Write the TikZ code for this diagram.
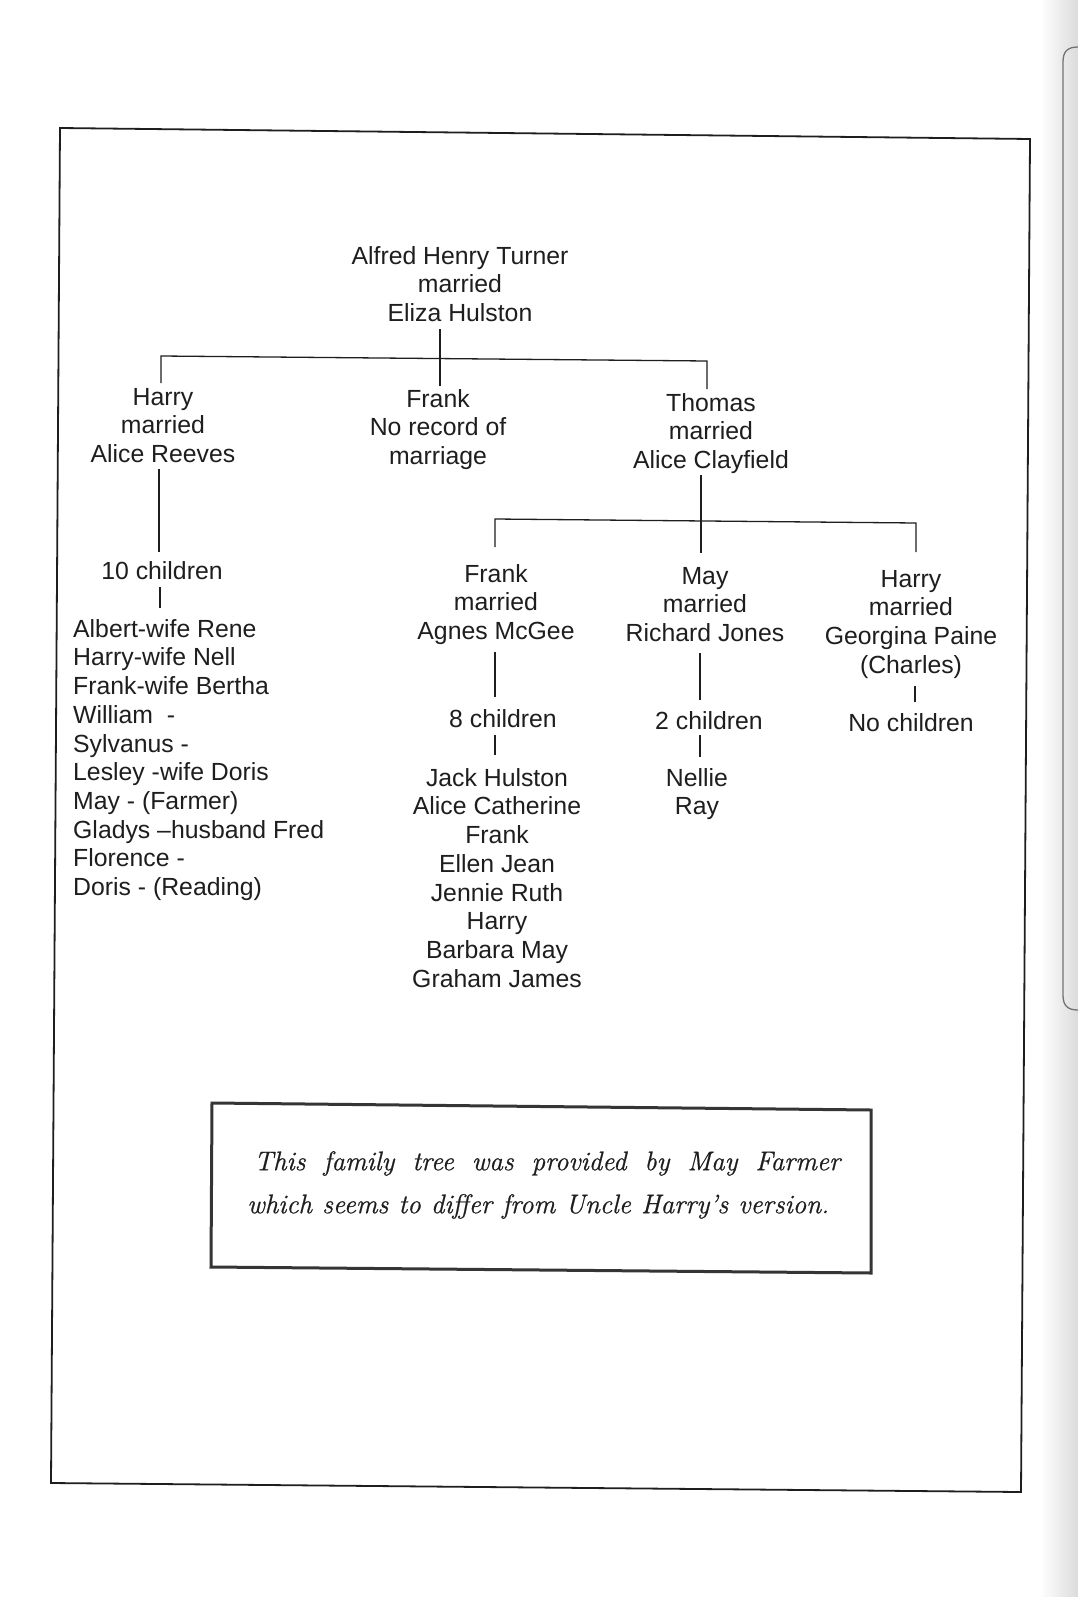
\documentclass[tikz,border=0pt]{standalone}
\usepackage{fontspec}
\setsansfont{Liberation Sans}
\newfontfamily\capfont[FakeBold=0.7]{Latin Modern Roman}
\definecolor{ink}{HTML}{1E1E1E}
\newcommand\tstrut{\rule{0pt}{20pt}}
\begin{document}
\begin{tikzpicture}[x=1pt,y=-1pt,
  tree/.style={font=\sffamily\fontsize{24.8}{28.7}\selectfont, text=ink, inner sep=0pt, align=center, anchor=north},
  link/.style={draw=ink, line width=1.3pt},
  frame/.style={draw=ink, line width=1.8pt},
  capbox/.style={draw=ink!90, line width=3pt},
]
\useasboundingbox (0,0) rectangle (1078,1597);
\fill[white] (0,0) rectangle (1078,1597);
% scan edge of the facing page
\shade[left color=white, right color=black!14] (1040,0) rectangle (1078,1597);
\draw[black!55, line width=1.3pt] (1078,47) .. controls (1067,47) and (1063,52) .. (1063,62) -- (1063,995) .. controls (1063,1005) and (1067,1010) .. (1078,1010);

% outer frame
\draw[frame] (60,128) -- (1030,139) -- (1021,1492) -- (51,1483) -- cycle;

% generation 1
\node[tree] (alfred) at (460,244) {\tstrut Alfred Henry Turner\\married\\Eliza Hulston};

% generation 2
\node[tree] (harry)  at (163,385) {\tstrut Harry\\married\\Alice Reeves};
\node[tree] (frank)  at (438,387) {\tstrut Frank\\No record of\\marriage};
\node[tree] (thomas) at (711,391) {\tstrut Thomas\\married\\Alice Clayfield};

% Harry's family
\node[tree] (harrykids) at (162,559) {\tstrut 10 children};
\node[tree, anchor=north west, align=left] (harrylist) at (73,617)
  {\tstrut Albert-wife Rene\\Harry-wife Nell\\Frank-wife Bertha\\William\ \ -\\Sylvanus -\\Lesley -wife Doris\\May - (Farmer)\\Gladys –husband Fred\\Florence -\\Doris - (Reading)};

% Thomas's family
\node[tree] (frank2) at (496,562) {\tstrut Frank\\married\\Agnes McGee};
\node[tree] (may)    at (705,564) {\tstrut May\\married\\Richard Jones};
\node[tree] (harry2) at (911,567) {\tstrut Harry\\married\\Georgina Paine\\(Charles)};

\node[tree] (frankkids) at (503,707) {\tstrut 8 children};
\node[tree] (maykids)   at (709,709) {\tstrut 2 children};
\node[tree] (nokids)    at (911,711) {\tstrut No children};

\node[tree] (franklist) at (497,766) {\tstrut Jack Hulston\\Alice Catherine\\Frank\\Ellen Jean\\Jennie Ruth\\Harry\\Barbara May\\Graham James};
\node[tree] (maylist)   at (697,766) {\tstrut Nellie\\Ray};

% connector coordinates
\coordinate (a0) at (440,329);
\coordinate (aL) at (161,356);
\coordinate (aM) at (440,358.5);
\coordinate (aR) at (707,361);
\coordinate (hL) at (161,383);
\coordinate (fM) at (440,386);
\coordinate (tR) at (707,389);

\coordinate (h1) at (159,469);
\coordinate (h2) at (159,552);
\coordinate (h3) at (160,587);
\coordinate (h4) at (160,608);

\coordinate (t0) at (701,475);
\coordinate (bL) at (495,519);
\coordinate (bM) at (701,521);
\coordinate (bR) at (916,523);
\coordinate (cL) at (495,547);
\coordinate (cM) at (701,553);
\coordinate (cR) at (916,552);

\coordinate (f1) at (495,652);
\coordinate (f2) at (495,697);
\coordinate (f3) at (495,735);
\coordinate (f4) at (495,755);

\coordinate (m1) at (700,653);
\coordinate (m2) at (700,700);
\coordinate (m3) at (700,735);
\coordinate (m4) at (700,757);

\coordinate (g1) at (915,686);
\coordinate (g2) at (915,702);

% connectors
\draw[link] (a0) -- (fM);
\draw[link] (hL) -- (aL) -- (aR) -- (tR);
\draw[link] (h1) -- (h2);
\draw[link] (h3) -- (h4);
\draw[link] (t0) -- (cM);
\draw[link] (cL) -- (bL) -- (bR) -- (cR);
\draw[link] (f1) -- (f2);
\draw[link] (f3) -- (f4);
\draw[link] (m1) -- (m2);
\draw[link] (m3) -- (m4);
\draw[link] (g1) -- (g2);

% caption box
\draw[capbox] (212,1103) -- (871,1110) -- (871,1273) -- (211,1267) -- cycle;
\node[font=\capfont\itshape\fontsize{27}{43}\selectfont, text=ink, inner sep=0pt, align=left, anchor=north west] (caption) at (247,1150)
  {\tstrut\hspace*{7pt}\makebox[586pt][s]{This family tree was provided by May Farmer}\\\makebox[582pt][s]{which seems to differ from Uncle Harry’s version.}};
\end{tikzpicture}
\end{document}
